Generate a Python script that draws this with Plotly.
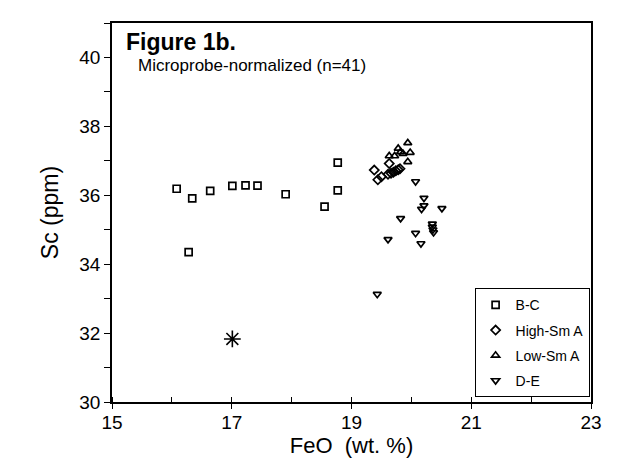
import plotly.graph_objects as go

# ---- data ----
bc_feo = [16.08, 16.34, 16.28, 16.64, 17.01, 17.23, 17.43, 17.90, 18.55, 18.77, 18.77]
bc_sc = [36.19, 35.91, 34.35, 36.13, 36.27, 36.29, 36.28, 36.03, 35.67, 36.14, 36.95]

hs_feo = [19.38, 19.44, 19.50, 19.63, 19.61, 19.66, 19.70, 19.74, 19.78, 19.81]
hs_sc = [36.73, 36.45, 36.54, 36.92, 36.61, 36.64, 36.67, 36.71, 36.74, 36.77]

ls_feo = [19.63, 19.72, 19.78, 19.82, 19.86, 19.94, 19.98, 19.94]
ls_sc = [37.14, 37.14, 37.36, 37.26, 37.21, 37.52, 37.24, 36.97]

de_feo = [20.07, 20.21, 20.17, 20.21, 20.51, 19.82, 20.35, 20.35, 20.36, 20.37,
          20.07, 20.16, 19.61, 19.43]
de_sc = [36.40, 35.92, 35.60, 35.70, 35.62, 35.33, 35.17, 35.08, 35.00, 34.92,
         34.90, 34.60, 34.72, 33.13]

star_feo = [17.01]
star_sc = [31.83]

x_ticks = [15, 17, 19, 21, 23]
y_ticks = [30, 32, 34, 36, 38, 40]

FONT = "Liberation Sans, Arial, sans-serif"

fig = go.Figure()

def add(xs, ys, name, symbol, size=7):
    fig.add_trace(go.Scatter(
        x=xs, y=ys, mode="markers", name=name, legendgroup=name,
        marker=dict(symbol=symbol, size=size, color="black",
                    line=dict(color="black", width=1.7)),
    ))

add(bc_feo, bc_sc, "B-C", "square-open")
add(hs_feo, hs_sc, "High-Sm A", "diamond-open")
add(ls_feo, ls_sc, "Low-Sm A", "triangle-up-open")
add(de_feo, de_sc, "D-E", "triangle-down-open")

fig.add_trace(go.Scatter(
    x=star_feo, y=star_sc, mode="markers", showlegend=False,
    marker=dict(symbol="asterisk-open", size=14, color="black",
                line=dict(color="black", width=1.6)),
))

fig.update_layout(
    width=622, height=461,
    margin=dict(l=104, r=39, t=15, b=67),
    paper_bgcolor="white", plot_bgcolor="white",
    font=dict(family=FONT, color="black", size=18),
    showlegend=True,
    legend=dict(
        x=0.757, y=0.30, xanchor="left", yanchor="top",
        bgcolor="white", bordercolor="black", borderwidth=1,
        font=dict(size=14, family=FONT), tracegroupgap=4,
        itemsizing="trace", itemwidth=30,
    ),
    xaxis=dict(
        range=[15, 23], tickvals=x_ticks, ticktext=[str(v) for v in x_ticks],
        showgrid=False, zeroline=False, showline=True, linecolor="black",
        linewidth=1.5, mirror=True, ticks="outside", ticklen=5, tickwidth=1.3,
        tickcolor="black", tickfont=dict(size=19), ticklabelstandoff=-3,
        minor=dict(dtick=1, ticks="inside", ticklen=5, tickwidth=1.3, tickcolor="black"),
        title=dict(text="FeO  (wt. %)", font=dict(size=22), standoff=0),
    ),
    yaxis=dict(
        range=[30, 41], tickvals=y_ticks, ticktext=[str(v) for v in y_ticks],
        showgrid=False, zeroline=False, showline=True, linecolor="black",
        linewidth=1.5, mirror=True, ticks="outside", ticklen=6, tickwidth=1.3,
        tickcolor="black", tickfont=dict(size=19),
        minor=dict(dtick=1, ticks="outside", ticklen=6, tickwidth=1.3, tickcolor="black"),
        title=dict(text="Sc (ppm)", font=dict(size=23), standoff=14),
    ),
    annotations=[
        dict(text="<b>Figure 1b.</b>", xref="paper", yref="paper", x=0.025, y=0.99,
             xanchor="left", yanchor="top", showarrow=False,
             font=dict(size=23, family=FONT)),
        dict(text="Microprobe-normalized (n=41)", xref="paper", yref="paper",
             x=0.05, y=0.918, xanchor="left", yanchor="top", showarrow=False,
             font=dict(size=17, family=FONT)),
    ],
)

fig.write_html("out.html")
